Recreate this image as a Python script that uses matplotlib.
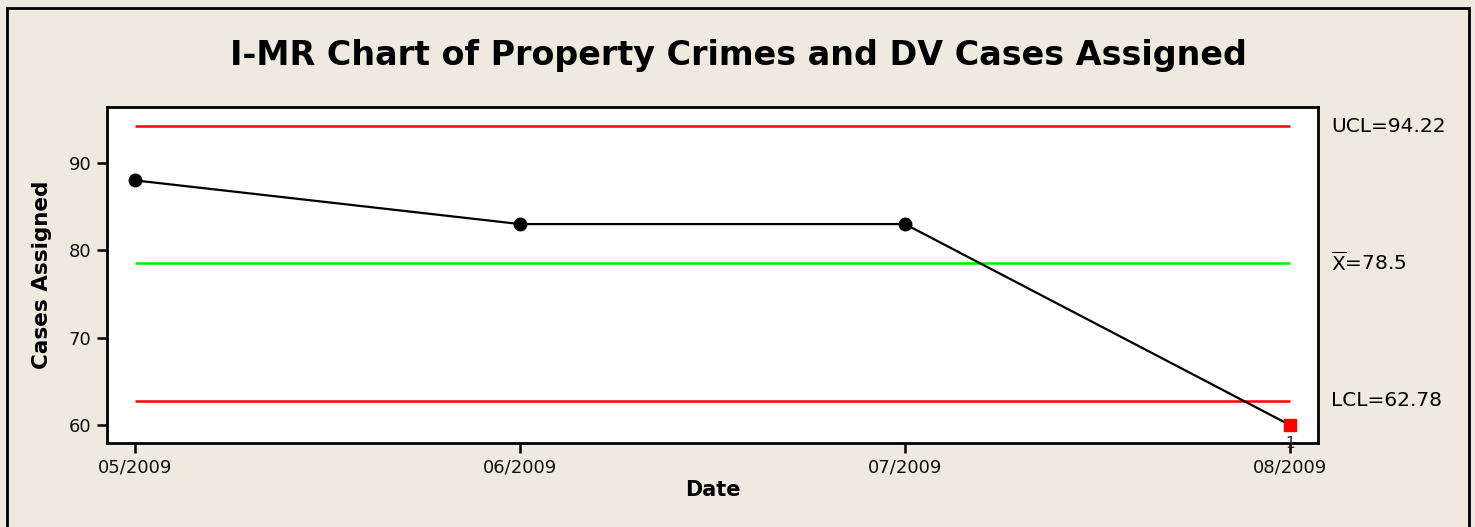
import matplotlib
matplotlib.use("Agg")
import matplotlib.pyplot as plt
from matplotlib.patches import Rectangle

dates = ["05/2009", "06/2009", "07/2009", "08/2009"]
cases = [88, 83, 83, 60]
ucl = 94.22
mean = 78.5
lcl = 62.78
flagged = [3]
yticks = [60, 70, 80, 90]

W, H = 1475, 527
fig = plt.figure(figsize=(W / 100, H / 100), dpi=100)
bg = "#EEEAE0"
fig.patch.set_facecolor(bg)
fig.patches.append(Rectangle((7 / W, -0.05), (1469 - 7) / W, 1 - 8 / H + 0.05,
                             transform=fig.transFigure, fill=False,
                             edgecolor="black", linewidth=2, zorder=0))

ax = fig.add_axes([107 / W, 1 - 443 / H, (1318 - 107) / W, (443 - 107) / H])
ax.set_facecolor("white")
x = list(range(len(dates)))
ax.plot(x, cases, color="black", lw=1.6, zorder=3)
normal = [i for i in x if i not in flagged]
ax.plot(normal, [cases[i] for i in normal], "o", color="black", ms=9, zorder=4)
ax.plot(flagged, [cases[i] for i in flagged], "s", color="#FF0000", ms=8, zorder=4)
for i in flagged:
    ax.annotate("1", (i, cases[i]), xytext=(0, -13), textcoords="offset points",
                ha="center", va="center", fontsize=11, color="#222222")

ax.hlines([ucl, lcl], 0, len(dates) - 1, colors="#FF0000", lw=1.8, zorder=2)
ax.hlines([mean], 0, len(dates) - 1, colors="#00EE00", lw=1.8, zorder=2)

ax.set_xlim(-0.073, 3.073)
ax.set_ylim(57.94, 96.4)
ax.set_xticks(x)
ax.set_xticklabels(dates, fontsize=13)
ax.set_yticks(yticks)
ax.set_yticklabels([str(v) for v in yticks], fontsize=13)
ax.tick_params(direction="out", length=7, width=1.8, pad=4, colors="black", labelcolor="#111111")
for s in ax.spines.values():
    s.set_linewidth(2)

ax.set_xlabel("Date", fontsize=15, fontweight="bold", labelpad=3)
ax.set_ylabel("Cases Assigned", fontsize=15.5, fontweight="bold", labelpad=12)

tr = ax.get_yaxis_transform()
ax.text(1.011, ucl, "UCL=94.22", transform=tr, fontsize=14.5, va="center", ha="left")
ax.text(1.011, mean, r"$\overline{\mathrm{X}}$=78.5", transform=tr, fontsize=14.5, va="center", ha="left")
ax.text(1.011, lcl, "LCL=62.78", transform=tr, fontsize=14.5, va="center", ha="left")

fig.text(738 / W, 1 - 55 / H, "I-MR Chart of Property Crimes and DV Cases Assigned",
         ha="center", va="center", fontsize=24, fontweight="bold")

fig.savefig("out.png", dpi=100, facecolor=bg)
